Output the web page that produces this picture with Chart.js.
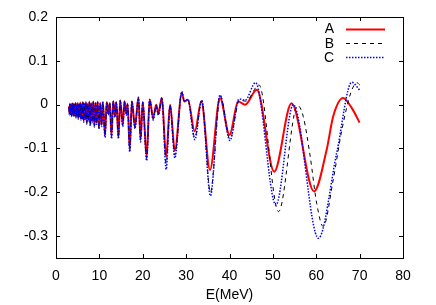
<!DOCTYPE html>
<html lang="en">
<head>
    <meta charset="UTF-8">
    <title>E(MeV) - A, B, C</title>
    <script src="https://cdn.jsdelivr.net/npm/chart.js"></script>
    <style>
        html, body { margin: 0; padding: 0; background: #fff; }
        canvas { display: block; }
    </style>
</head>
<body>
    <canvas id="chart" width="436" height="305"></canvas>

    <script>
        // tick labels
        const xTicks = [0, 10, 20, 30, 40, 50, 60, 70, 80];
        const yTicks = [-0.3, -0.2, -0.1, 0, 0.1, 0.2];

        // dense low-energy part (E < 11 MeV), same energies for all three curves
        const lowEnergy = [3.0, 3.1, 3.2, 3.35, 3.5, 3.6, 3.75, 3.85, 4.0, 4.1, 4.25, 4.35, 4.5, 4.6, 4.75, 4.85,
            5.0, 5.15, 5.3, 5.45, 5.6, 5.75, 5.9, 6.05, 6.2, 6.4, 6.55, 6.75, 6.9, 7.1, 7.3, 7.5, 7.7, 7.9,
            8.1, 8.35, 8.6, 8.85, 9.1, 9.35, 9.6, 9.9, 10.2, 10.5, 10.8];
        const lowA = [-0.004, -0.020, 0.002, -0.022, 0.000, -0.024, 0.003, -0.020, 0.002, -0.025, 0.000, -0.022, 0.004, -0.027, 0.001, -0.024,
            0.004, -0.030, 0.000, -0.026, 0.005, -0.032, 0.001, -0.029, 0.006, -0.036, 0.002, -0.031, 0.006, -0.040, 0.002, -0.034, 0.007, -0.044,
            0.003, -0.038, 0.007, -0.047, 0.004, -0.042, 0.007, -0.052, 0.004, -0.046, 0.006];
        const lowB = [-0.005, -0.022, 0.001, -0.024, 0.000, -0.026, 0.002, -0.022, 0.001, -0.027, 0.000, -0.024, 0.003, -0.029, 0.000, -0.026,
            0.003, -0.032, 0.000, -0.028, 0.004, -0.034, 0.000, -0.031, 0.005, -0.038, 0.001, -0.033, 0.005, -0.042, 0.001, -0.036, 0.006, -0.046,
            0.002, -0.040, 0.006, -0.049, 0.003, -0.044, 0.006, -0.054, 0.003, -0.048, 0.005];
        const lowC = [-0.006, -0.023, 0.001, -0.025, -0.001, -0.027, 0.002, -0.023, 0.001, -0.028, -0.001, -0.025, 0.003, -0.030, 0.000, -0.027,
            0.003, -0.033, -0.001, -0.029, 0.004, -0.035, 0.000, -0.032, 0.005, -0.040, 0.001, -0.034, 0.005, -0.044, 0.001, -0.037, 0.006, -0.048,
            0.002, -0.041, 0.006, -0.051, 0.003, -0.045, 0.006, -0.056, 0.003, -0.050, 0.005];

        // A (red, solid)
        const energyA = [11.3, 11.7, 12.1, 12.4, 12.8, 13.2, 13.6, 13.9, 14.4, 14.8, 15.4, 15.8, 16.2, 16.5, 17.0, 17.5, 18.2, 19.0, 19.5, 20.0,
            20.9, 21.6, 22.4, 23.1, 23.6, 24.4, 25.4, 26.3, 27.4, 29.0, 29.6, 30.4, 32.0, 33.5, 35.5, 37.8, 40.0, 42.0, 43.6, 46.3,
            50.3, 54.3, 59.5, 62.4, 63.9, 66.2, 68.2, 70.0];
        const valuesA = [-0.068, 0.006, -0.020, 0.004, -0.070, 0.008, -0.025, 0.006, -0.072, 0.010, -0.045, 0.008, -0.020, 0.002, -0.100, 0.008, -0.050, 0.016, -0.078, 0.006,
            -0.118, 0.012, -0.030, 0.000, -0.020, 0.015, -0.118, 0.000, -0.105, 0.026, 0.007, 0.011, -0.061, 0.007, -0.149, 0.015, -0.069, 0.007, 0.000, 0.034,
            -0.153, 0.003, -0.198, -0.103, -0.027, 0.015, -0.008, -0.041];

        // B (black, dashed)
        const energyB = [11.3, 11.7, 12.1, 12.4, 12.8, 13.2, 13.6, 13.9, 14.4, 14.8, 15.4, 15.8, 16.2, 16.5, 17.0, 17.5, 18.2, 19.0, 19.5, 20.0,
            20.9, 21.6, 22.4, 23.1, 23.6, 24.4, 25.4, 26.3, 27.4, 29.0, 29.6, 30.4, 32.0, 33.6, 35.6, 37.9, 40.1, 42.3, 43.8, 46.8,
            51.3, 55.7, 57.0, 58.6, 60.1, 61.6, 63.9, 65.9, 68.0, 69.4, 70.0];
        const valuesB = [-0.072, 0.005, -0.022, 0.003, -0.074, 0.007, -0.027, 0.005, -0.075, 0.009, -0.048, 0.007, -0.022, 0.001, -0.104, 0.007, -0.052, 0.016, -0.082, 0.005,
            -0.123, 0.012, -0.033, -0.001, -0.022, 0.015, -0.135, -0.001, -0.115, 0.028, 0.008, 0.012, -0.075, 0.009, -0.200, 0.020, -0.078, 0.010, 0.008, 0.045,
            -0.244, -0.002, -0.027, -0.118, -0.225, -0.278, -0.172, -0.058, 0.028, 0.050, 0.045];

        // C (blue, dotted)
        const energyC = [11.3, 11.7, 12.1, 12.4, 12.8, 13.2, 13.6, 13.9, 14.4, 14.8, 15.4, 15.8, 16.2, 16.5, 17.0, 17.5, 18.2, 19.0, 19.5, 20.0,
            20.9, 21.6, 22.4, 23.1, 23.6, 24.4, 25.4, 26.3, 27.4, 29.0, 29.6, 30.4, 32.0, 33.6, 35.6, 37.8, 40.1, 42.2, 43.6, 46.0,
            50.7, 54.7, 60.5, 64.7, 68.2, 70.1];
        const valuesC = [-0.075, 0.005, -0.024, 0.003, -0.078, 0.007, -0.029, 0.005, -0.078, 0.009, -0.050, 0.007, -0.024, 0.001, -0.108, 0.007, -0.055, 0.017, -0.085, 0.005,
            -0.128, 0.012, -0.035, -0.002, -0.024, 0.016, -0.148, -0.002, -0.122, 0.030, 0.008, 0.012, -0.080, 0.010, -0.208, 0.022, -0.082, 0.013, 0.010, 0.050,
            -0.229, 0.000, -0.305, -0.111, 0.051, 0.032];

        function toPoints(lowY, energy, values) {
            const pts = lowEnergy.map((e, i) => ({ x: e, y: lowY[i] }));
            return pts.concat(energy.map((e, i) => ({ x: e, y: values[i] })));
        }

        const font = { family: '"Liberation Sans", Arial, sans-serif', size: 14 };

        const series = [
            { label: 'A', data: toPoints(lowA, energyA, valuesA), borderColor: '#ff0000', borderWidth: 2, borderDash: [], order: 3 },
            { label: 'B', data: toPoints(lowB, energyB, valuesB), borderColor: '#000000', borderWidth: 1, borderDash: [4, 4], order: 2 },
            { label: 'C', data: toPoints(lowC, energyC, valuesC), borderColor: '#0000ff', borderWidth: 1.5, borderDash: [1.5, 1.5], order: 1 }
        ];

        // frame with inward ticks on all four sides, plus a gnuplot-like key
        const framePlugin = {
            id: 'frame',
            afterDraw(chart) {
                const { ctx, chartArea: a, scales: { x, y } } = chart;
                ctx.save();
                ctx.strokeStyle = '#000';
                ctx.lineWidth = 1;
                ctx.setLineDash([]);
                ctx.strokeRect(a.left + 0.5, a.top + 0.5, a.right - a.left, a.bottom - a.top);
                ctx.beginPath();
                xTicks.forEach(v => {
                    const px = Math.round(x.getPixelForValue(v)) + 0.5;
                    ctx.moveTo(px, a.bottom); ctx.lineTo(px, a.bottom - 4);
                    ctx.moveTo(px, a.top); ctx.lineTo(px, a.top + 4);
                });
                yTicks.forEach(v => {
                    const py = Math.round(y.getPixelForValue(v)) + 0.5;
                    ctx.moveTo(a.left, py); ctx.lineTo(a.left + 4, py);
                    ctx.moveTo(a.right, py); ctx.lineTo(a.right - 4, py);
                });
                ctx.stroke();

                // key
                ctx.font = '14px ' + font.family;
                ctx.fillStyle = '#000';
                ctx.textAlign = 'right';
                ctx.textBaseline = 'middle';
                series.forEach((s, i) => {
                    const ky = 28.5 + i * 14.2;
                    ctx.fillText(s.label, 334, ky + 1);
                    ctx.strokeStyle = s.borderColor;
                    ctx.lineWidth = s.borderWidth;
                    ctx.setLineDash(s.borderDash);
                    ctx.beginPath();
                    ctx.moveTo(346, Math.round(ky) + 0.5);
                    ctx.lineTo(385, Math.round(ky) + 0.5);
                    ctx.stroke();
                });
                ctx.restore();
            }
        };

        new Chart(document.getElementById('chart'), {
            type: 'line',
            data: {
                datasets: series.map(s => ({
                    label: s.label,
                    data: s.data,
                    borderColor: s.borderColor,
                    borderWidth: s.borderWidth,
                    borderDash: s.borderDash,
                    order: s.order,
                    pointRadius: 0,
                    fill: false,
                    cubicInterpolationMode: 'monotone'
                }))
            },
            options: {
                responsive: false,
                animation: false,
                devicePixelRatio: 1,
                layout: { padding: { left: 0, top: 17, right: 33, bottom: 0 } },
                plugins: { legend: { display: false }, tooltip: { enabled: false } },
                scales: {
                    x: {
                        type: 'linear',
                        min: 0,
                        max: 80,
                        afterBuildTicks: s => { s.ticks = xTicks.map(v => ({ value: v })); },
                        afterFit: s => { s.height = 47; },
                        grid: { display: false, drawTicks: false },
                        border: { display: false },
                        ticks: { font: font, color: '#000', padding: 10, maxRotation: 0 },
                        title: { display: true, text: 'E(MeV)', font: font, color: '#000', padding: { top: 0, bottom: 1 } }
                    },
                    y: {
                        type: 'linear',
                        min: -0.35,
                        max: 0.2,
                        afterBuildTicks: s => { s.ticks = yTicks.map(v => ({ value: v })); },
                        afterFit: s => { s.width = 56; },
                        grid: { display: false, drawTicks: false },
                        border: { display: false },
                        ticks: {
                            font: font,
                            color: '#000',
                            padding: 8,
                            callback: v => Math.abs(v) < 1e-9 ? '0' : String(+v.toFixed(1))
                        }
                    }
                }
            },
            plugins: [framePlugin]
        });
    </script>
</body>
</html>
